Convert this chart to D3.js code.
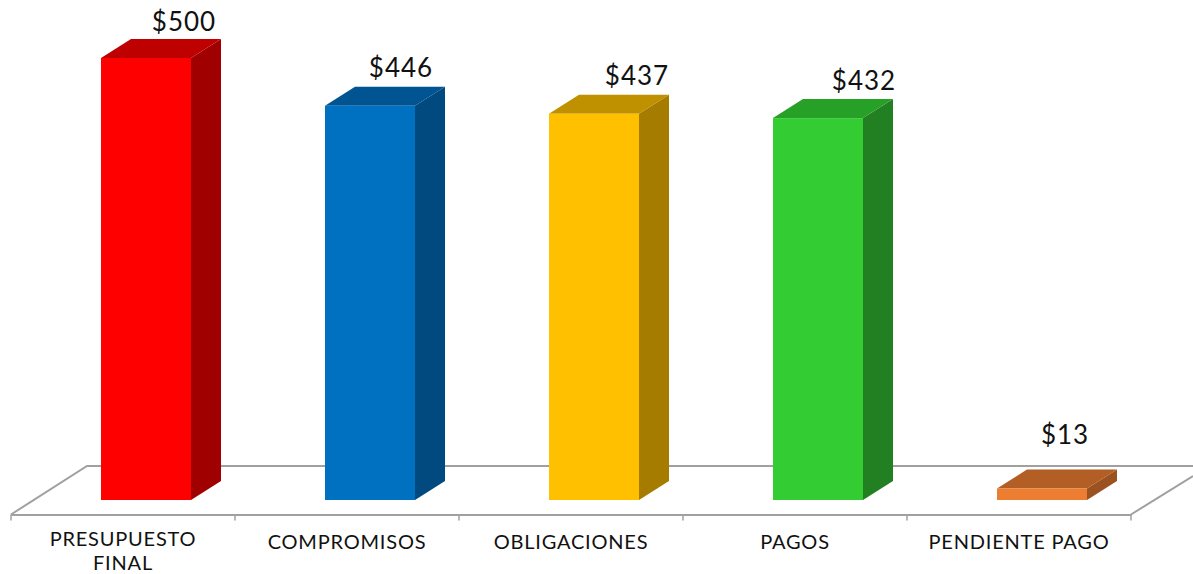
<!DOCTYPE html>
<html>
<head>
<meta charset="utf-8">
<script src="https://cdn.jsdelivr.net/npm/d3@7"></script>
<style>
  html, body { margin: 0; padding: 0; background: #fff; overflow: hidden; }
  text { font-family: Lato, "Open Sans", sans-serif; fill: #111; }
</style>
</head>
<body>
<div id="chart"></div>
<script>
//chart data
var categories = ["PRESUPUESTO FINAL", "COMPROMISOS", "OBLIGACIONES", "PAGOS", "PENDIENTE PAGO"];
var values = [500, 446, 437, 432, 13];
var valueLabels = ["$500", "$446", "$437", "$432", "$13"];

//bar colours: front, top, side
var frontColors = ["#ff0000", "#0070c0", "#ffc000", "#33cc33", "#ed7d31"];
var topColors = ["#bf0000", "#005491", "#bf9000", "#26a026", "#b25e24"];
var sideColors = ["#a00000", "#004a7f", "#a67c00", "#228022", "#9b5220"];

//label nudges measured from the bar's front top centre
var labelDx = [38, 31, 43, 46, 23];
var labelDy = [-27, -29, -29, -28, -45];

var svgWidth = 1193;
var svgHeight = 574;

//3D look
var depthX = 30;
var depthY = 19;
var barWidth = 90;
var barOffset = 90;

var svg = d3.select("#chart")
  .append("svg")
  .attr("width", svgWidth)
  .attr("height", svgHeight)
  .style("display", "block");

var xScale = d3.scaleBand()
  .domain(categories)
  .range([11, 1131]);

var yScale = d3.scaleLinear()
  .domain([0, 500])
  .range([500, 58]);

//floor of the 3D plot
var floorColor = "#a0a0a0";
var floorY = 514.5;
var backY = 466;

svg.append("path")
  .attr("d", `M11,${floorY} L87,${backY} L1193,${backY}`)
  .attr("fill", "none")
  .attr("stroke", floorColor)
  .attr("stroke-width", 2);

svg.append("path")
  .attr("d", `M1131,${floorY} L1193,476`)
  .attr("fill", "none")
  .attr("stroke", floorColor)
  .attr("stroke-width", 2);

//x axis, ticks sit between the categories so those are drawn below
var xAxis = svg.append("g")
  .attr("transform", `translate(0, ${floorY})`)
  .call(d3.axisBottom(xScale).tickSize(0).tickPadding(20));

xAxis.select(".domain")
  .attr("stroke", floorColor)
  .attr("stroke-width", 2);

xAxis.selectAll("text")
  .style("font-size", "20px")
  .style("letter-spacing", "0.8px")
  .attr("fill", "#111")
  .each(function(d) {
    //wrap the long label on two lines, lifted a bit so it stays in the picture
    var label = d3.select(this);
    if (d.length > 15) {
      var words = d.split(" ");
      label.text(words[0]);
      label.attr("y", +label.attr("y") - 3);
      label.append("tspan")
        .attr("x", 0)
        .attr("dy", "1.23em")
        .text(words[1]);
    }
  });

var edges = categories.map(d => xScale(d)).concat([xScale.range()[1]]);

svg.selectAll(".edge-tick")
  .data(edges)
  .enter()
  .append("line")
  .attr("class", "edge-tick")
  .attr("x1", d => d)
  .attr("x2", d => d)
  .attr("y1", floorY)
  .attr("y2", floorY + 6)
  .attr("stroke", floorColor)
  .attr("stroke-width", 1.5);

//bars
var bars = svg.selectAll(".bar")
  .data(categories)
  .enter()
  .append("g")
  .attr("class", "bar");

function barLeft(i) {
  return xScale(categories[i]) + barOffset;
}

//side face
bars.append("path")
  .attr("fill", (d, i) => sideColors[i])
  .attr("d", function(d, i) {
    var x1 = barLeft(i) + barWidth;
    var top = yScale(values[i]);
    var bottom = yScale(0);
    return `M${x1},${top} L${x1 + depthX},${top - depthY} L${x1 + depthX},${bottom - depthY} L${x1},${bottom} Z`;
  });

//top face
bars.append("path")
  .attr("fill", (d, i) => topColors[i])
  .attr("d", function(d, i) {
    var x0 = barLeft(i);
    var x1 = x0 + barWidth;
    var top = yScale(values[i]);
    return `M${x0},${top} L${x0 + depthX},${top - depthY} L${x1 + depthX},${top - depthY} L${x1},${top} Z`;
  });

//front face
bars.append("rect")
  .attr("x", (d, i) => barLeft(i))
  .attr("y", (d, i) => yScale(values[i]))
  .attr("width", barWidth)
  .attr("height", (d, i) => yScale(0) - yScale(values[i]))
  .attr("fill", (d, i) => frontColors[i]);

//value labels
svg.selectAll(".value-label")
  .data(valueLabels)
  .enter()
  .append("text")
  .attr("class", "value-label")
  .attr("x", (d, i) => barLeft(i) + barWidth / 2 + labelDx[i])
  .attr("y", (d, i) => yScale(values[i]) + labelDy[i])
  .attr("text-anchor", "middle")
  .style("font-size", "26px")
  .style("letter-spacing", "1px")
  .text(d => d);
</script>
</body>
</html>
